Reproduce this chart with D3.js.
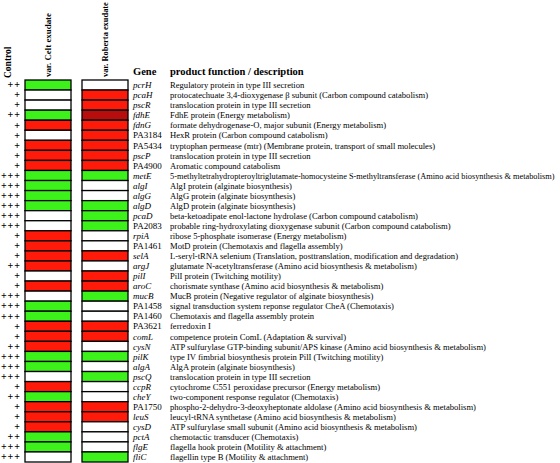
<!DOCTYPE html>
<html><head><meta charset="utf-8">
<script src="https://cdn.jsdelivr.net/npm/d3@7"></script>
<style>body{margin:0;background:#fff}svg{display:block}</style>
</head><body>
<svg id="c" width="560" height="463"></svg>
<script>
const genes = ["pcrH","pcaH","pscR","fdhE","fdnG","PA3184","PA5434","pscP","PA4900","metE","algI","algG","algD","pcaD","PA2083","rpiA","PA1461","selA","argJ","pilI","aroC","mucB","PA1458","PA1460","PA3621","comL","cysN","pilK","algA","pscQ","ccpR","cheY","PA1750","leuS","cysD","pctA","flgE","fliC"];
const descriptions = [
"Regulatory protein in type III secretion",
"protocatechuate 3,4-dioxygenase \u03b2 subunit (Carbon compound catabolism)",
"translocation protein in type III secretion",
"FdhE protein (Energy metabolism)",
"formate dehydrogenase-O, major subunit (Energy metabolism)",
"HexR protein (Carbon compound catabolism)",
"tryptophan permease (mtr) (Membrane protein, transport of small molecules)",
"translocation protein in type III secretion",
"Aromatic compound catabolism",
"5-methyltetrahydropteroyltriglutamate-homocysteine S-methyltransferase (Amino acid biosynthesis & metabolism)",
"AlgI protein (alginate biosynthesis)",
"AlgG protein (alginate biosynthesis)",
"AlgD protein (alginate biosynthesis)",
"beta-ketoadipate enol-lactone hydrolase (Carbon compound catabolism)",
"probable ring-hydroxylating dioxygenase subunit (Carbon compound catabolism)",
"ribose 5-phosphate isomerase (Energy metabolism)",
"MotD protein (Chemotaxis and flagella assembly)",
"L-seryl-tRNA selenium (Translation, posttranslation, modification and degradation)",
"glutamate N-acetyltransferase (Amino acid biosynthesis & metabolism)",
"PilI protein (Twitching motility)",
"chorismate synthase (Amino acid biosynthesis & metabolism)",
"MucB protein (Negative regulator of alginate biosynthesis)",
"signal transduction system reponse regulator CheA (Chemotaxis)",
"Chemotaxis and flagella assembly protein",
"ferredoxin I",
"competence protein ComL (Adaptation & survival)",
"ATP sulfurylase GTP-binding subunit/APS kinase (Amino acid biosynthesis & metabolism)",
"type IV fimbrial biosynthesis protein PilI (Twitching motility)",
"AlgA protein (alginate biosynthesis)",
"translocation protein in type III secretion",
"cytochrome C551 peroxidase precursor (Energy metabolism)",
"two-component response regulator (Chemotaxis)",
"phospho-2-dehydro-3-deoxyheptonate aldolase (Amino acid biosynthesis & metabolism)",
"leucyl-tRNA synthetase (Amino acid biosynthesis & metabolism)",
"ATP sulfurylase small subunit (Amino acid biosynthesis & metabolism)",
"chemotactic transducer (Chemotaxis)",
"flagella hook protein (Motility & attachment)",
"flagellin type B (Motility & attachment)"];
const control = ["++","+","+","++","+","+","+","+","+","+++","+++","+++","+++","+++","+++","+","+","+","++","+","+","+++","+++","+++","+","+","++","+++","+++","+++","+","++","+","+","+","++","+++","+++"];
// G = induced (green), R = repressed (red), D = strongly repressed (dark red), W = unchanged (white)
const celt = ["G","W","W","G","R","W","R","R","R","G","G","G","G","W","W","R","R","R","R","W","R","W","G","G","R","R","R","G","G","W","R","G","R","R","R","G","G","W"];
const roberta = ["W","R","R","D","R","R","R","R","R","G","W","W","G","G","G","W","W","R","W","R","R","G","W","W","R","R","W","G","W","G","W","W","R","R","W","W","W","G"];
const columns = ["var. Celt exudate","var. Roberta exudate"];
const headers = ["Control","Gene","product function / description"];

const svg = d3.select("#c");
const W = 560;
const y = d3.scaleBand().domain(genes).range([80, 462]);
const x = d3.scaleBand().domain(columns).range([25, 128]).paddingInner(0.193);
const color = d3.scaleOrdinal().domain(["G","R","D","W"]).range(["#3df21a","#ff1a0a","#b80d0d","#ffffff"]);
const serif = "'Liberation Serif','Times New Roman',serif";

const data = genes.map((g,i)=>({gene:g, desc:descriptions[i], ctrl:control[i], vals:[celt[i], roberta[i]]}));

// cells
columns.forEach((col, ci) => {
  svg.append("g").selectAll("rect").data(data).join("rect")
    .attr("x", x(col)).attr("y", d => y(d.gene))
    .attr("width", x.bandwidth()).attr("height", y.bandwidth())
    .attr("fill", d => color(d.vals[ci]))
    .attr("stroke", "#000").attr("stroke-width", 1.3);
});

// control plus signs
svg.append("g").selectAll("text").data(data).join("text")
  .attr("x", 21).attr("y", d => y(d.gene) + y.bandwidth()/2 + 3.3)
  .attr("text-anchor","end").attr("font-family", serif).attr("font-weight","bold")
  .attr("font-size", 10).attr("letter-spacing", 1).text(d => d.ctrl);

// gene names
const isSymbol = g => !/^PA\d/.test(g);
svg.append("g").selectAll("text").data(data).join("text")
  .attr("x", 133).attr("y", d => y(d.gene) + y.bandwidth()/2 + 3.2)
  .attr("font-family", serif).attr("font-size", 9)
  .attr("font-style", d => isSymbol(d.gene) ? "italic" : "normal")
  .text(d => d.gene);

// descriptions (font reduced if wider than available space)
const descX = 170, maxW = W - descX - 5, fs = 8.6;
svg.append("g").selectAll("text").data(data).join("text")
  .attr("x", descX).attr("y", d => y(d.gene) + y.bandwidth()/2 + 3.2)
  .attr("font-family", serif).attr("font-size", fs)
  .text(d => d.desc)
  .each(function(){
    const w = this.getComputedTextLength();
    if (w > maxW) d3.select(this).attr("font-size", fs * maxW / w);
  });

// headers
svg.append("text").attr("transform","translate(11,78) rotate(-90)")
  .attr("font-family", serif).attr("font-weight","bold").attr("font-size", 9.5).text(headers[0]);
columns.forEach((col, ci) => {
  svg.append("text").attr("transform", `translate(${x(col)+x.bandwidth()/2+3},77) rotate(-90)`)
    .attr("font-family", serif).attr("font-weight","bold").attr("font-size", ci===0?8.9:8.4).text(col);
});
svg.append("text").attr("x",133).attr("y",75).attr("font-family",serif).attr("font-weight","bold").attr("font-size",10.5).text(headers[1]);
svg.append("text").attr("x",170).attr("y",75).attr("font-family",serif).attr("font-weight","bold").attr("font-size",10.5).text(headers[2]);
</script>
</body></html>
